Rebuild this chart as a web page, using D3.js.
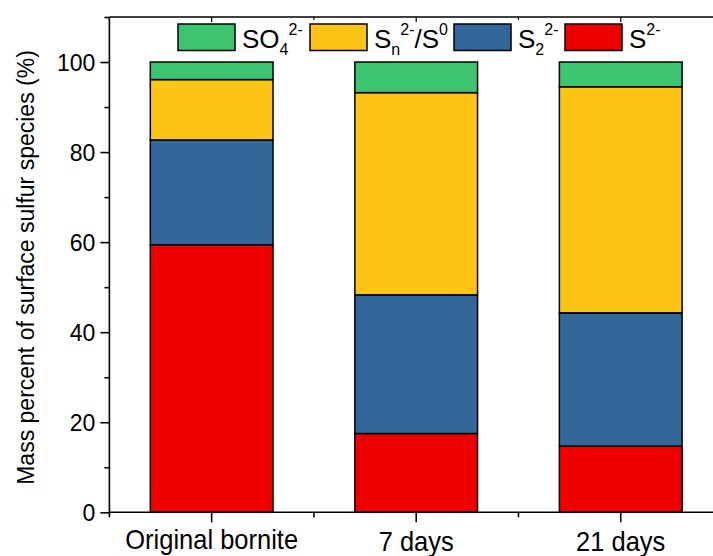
<!DOCTYPE html>
<html>
<head>
<meta charset="utf-8">
<script src="https://cdn.jsdelivr.net/npm/d3@7"></script>
<style>
  html, body { margin: 0; padding: 0; background: #fff; }
  svg { display: block; }
  text { font-family: "Liberation Sans", Arial, Helvetica, sans-serif; fill: #000; }
</style>
</head>
<body>
<svg id="chart" width="713" height="556"></svg>
<script>
// Samples and sulfur species (stacked bottom to top)
const samples = ["Original bornite", "7 days", "21 days"];
const speciesKeys = ["S2-", "S22-", "Sn2-/S0", "SO42-"];
const sulfide   = [59.4, 17.5, 14.7];   // S2-
const disulfide = [23.3, 30.8, 29.6];   // S2 2-
const polysulf  = [13.4, 44.9, 50.2];   // Sn 2- / S0
const sulfate   = [3.9, 6.8, 5.5];      // SO4 2-
const yTicks = [0, 20, 40, 60, 80, 100];
const yMinorTicks = [10, 30, 50, 70, 90, 110];
const yTitle = "Mass percent of surface sulfur species (%)";

const colors = {
  "S2-": "#ee0000",
  "S22-": "#336699",
  "Sn2-/S0": "#fdc315",
  "SO42-": "#3cc470"
};

// Legend entries: base text, subscript, superscript pieces
const legendItems = [
  { key: "SO42-",   parts: [["SO", 0], ["4", -1], ["2-", 1]] },
  { key: "Sn2-/S0", parts: [["S", 0], ["n", -1], ["2-", 1], ["/S", 0], ["0", 1]] },
  { key: "S22-",    parts: [["S", 0], ["2", -1], ["2-", 1]] },
  { key: "S2-",     parts: [["S", 0], ["2-", 1]] }
];

const rows = samples.map((s, i) => ({
  sample: s,
  "S2-": sulfide[i],
  "S22-": disulfide[i],
  "Sn2-/S0": polysulf[i],
  "SO42-": sulfate[i]
}));

const svg = d3.select("#chart");
const m = { left: 109.4, top: 17, right: 723, bottom: 512.3 };

const x = d3.scaleBand()
  .domain(samples)
  .range([m.left, m.right])
  .paddingInner(0.4)
  .paddingOuter(0.2);

const y = d3.scaleLinear().domain([0, 110]).range([m.bottom, m.top]);

const series = d3.stack().keys(speciesKeys)(rows);

// Stacked bars
svg.append("g")
  .selectAll("g")
  .data(series)
  .join("g")
  .attr("fill", d => colors[d.key])
  .selectAll("rect")
  .data(d => d)
  .join("rect")
  .attr("x", d => x(d.data.sample))
  .attr("width", x.bandwidth())
  .attr("y", d => y(d[1]))
  .attr("height", d => y(d[0]) - y(d[1]))
  .attr("stroke", "#000")
  .attr("stroke-width", 1.5);

// Frame lines
const frame = svg.append("g").attr("stroke", "#000").attr("stroke-width", 1.6).attr("fill", "none");
frame.append("line").attr("x1", m.left).attr("x2", m.left).attr("y1", m.top).attr("y2", m.bottom);
frame.append("line").attr("x1", m.left).attr("x2", m.right).attr("y1", m.bottom).attr("y2", m.bottom);
frame.append("line").attr("x1", m.left).attr("x2", m.right).attr("y1", m.top).attr("y2", m.top);

// Left axis
const yAxis = d3.axisLeft(y).tickValues(yTicks).tickSize(9).tickPadding(5);
const ga = svg.append("g").attr("transform", `translate(${m.left},0)`).call(yAxis);
ga.select(".domain").remove();
ga.selectAll(".tick line").attr("stroke-width", 1.6);
ga.selectAll(".tick text").attr("font-size", 23).attr("dy", "0.36em")
  .attr("font-family", null);

const gm = svg.append("g").attr("transform", `translate(${m.left},0)`)
  .call(d3.axisLeft(y).tickValues(yMinorTicks).tickSize(5).tickFormat(""));
gm.select(".domain").remove();
gm.selectAll(".tick line").attr("stroke-width", 1.6);

// Bottom axis: major ticks at sample centres, minor ticks at band edges
const step = x.step();
const edges = d3.range(samples.length + 1).map(i => m.left + i * step);
const gb = svg.append("g").attr("stroke", "#000").attr("stroke-width", 1.6);
gb.selectAll("line.maj").data(samples).join("line")
  .attr("x1", d => x(d) + x.bandwidth() / 2).attr("x2", d => x(d) + x.bandwidth() / 2)
  .attr("y1", m.bottom).attr("y2", m.bottom + 10);
gb.selectAll("line.min").data(edges).join("line")
  .attr("x1", d => d).attr("x2", d => d)
  .attr("y1", m.bottom).attr("y2", m.bottom + 5);

// Top axis ticks pointing inward
const gt = svg.append("g").attr("stroke", "#000").attr("stroke-width", 1.2);
gt.selectAll("line.maj").data(samples).join("line")
  .attr("x1", d => x(d) + x.bandwidth() / 2).attr("x2", d => x(d) + x.bandwidth() / 2)
  .attr("y1", m.top).attr("y2", m.top + 5);
gt.selectAll("line.min").data(edges).join("line")
  .attr("x1", d => d).attr("x2", d => d)
  .attr("y1", m.top).attr("y2", m.top + 3);

// Sample labels
svg.append("g").selectAll("text").data(samples).join("text")
  .attr("transform", (d, i) =>
    `translate(${x(d) + x.bandwidth() / 2},${i === 0 ? 549 : 551}) scale(1,1.08)`)
  .attr("text-anchor", "middle")
  .attr("font-size", 25.5)
  .text(d => d);

// Y title
svg.append("text")
  .attr("transform", "translate(34,267.5) rotate(-90)")
  .attr("text-anchor", "middle")
  .attr("font-size", 23)
  .text(yTitle);

// Legend
const legendX = [178, 310, 454, 565];
const lg = svg.append("g");
legendItems.forEach((it, i) => {
  const g = lg.append("g").attr("transform", `translate(${legendX[i]},24)`);
  g.append("rect").attr("width", 57).attr("height", 26.5)
    .attr("fill", colors[it.key]).attr("stroke", "#000").attr("stroke-width", 1.5);
  const t = g.append("text").attr("x", 64).attr("y", 24).attr("font-size", 26);
  it.parts.forEach(([str, pos]) => {
    const span = t.append("tspan").text(str);
    if (pos === 1) span.attr("font-size", 16).attr("baseline-shift", "80%");
    if (pos === -1) span.attr("font-size", 16).attr("baseline-shift", "-45%");
  });
});
</script>
</body>
</html>
